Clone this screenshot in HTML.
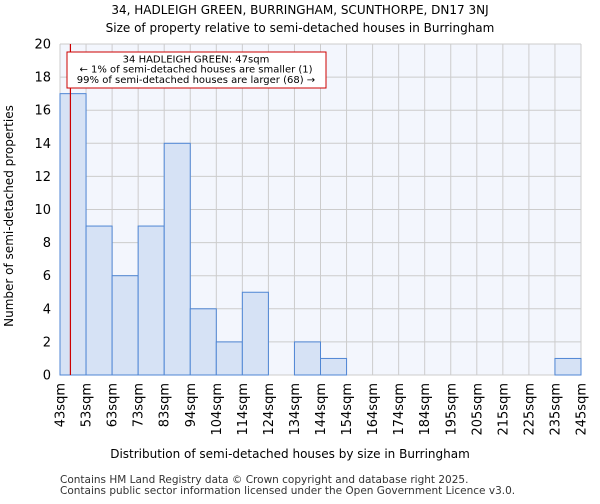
<!DOCTYPE html>
<html><head><meta charset="utf-8"><style>
body{margin:0;background:#fff;font-family:"DejaVu Sans","Liberation Sans",sans-serif}
</style></head><body>
<svg id="c" width="600" height="500" xmlns="http://www.w3.org/2000/svg" font-family="DejaVu Sans, Liberation Sans, sans-serif">
<text x="300" y="14" text-anchor="middle" font-size="12">34, HADLEIGH GREEN, BURRINGHAM, SCUNTHORPE, DN17 3NJ</text>
<text x="300" y="32" text-anchor="middle" font-size="12">Size of property relative to semi-detached houses in Burringham</text>
<g id="plot"></g>
<text x="290" y="458" text-anchor="middle" font-size="12">Distribution of semi-detached houses by size in Burringham</text>
<text transform="translate(13,216) rotate(-90)" text-anchor="middle" font-size="12">Number of semi-detached properties</text>
<text x="60" y="483" font-size="10.5" fill="#333">Contains HM Land Registry data © Crown copyright and database right 2025.</text>
<text x="60" y="494" font-size="10.5" fill="#333">Contains public sector information licensed under the Open Government Licence v3.0.</text>
</svg>
<script>
const categories=["43sqm","53sqm","63sqm","73sqm","83sqm","94sqm","104sqm","114sqm","124sqm","134sqm","144sqm","154sqm","164sqm","174sqm","184sqm","195sqm","205sqm","215sqm","225sqm","235sqm","245sqm"];
const counts=[17,9,6,9,14,4,2,5,0,2,1,0,0,0,0,0,0,0,0,1];
const yTicks=[0,2,4,6,8,10,12,14,16,18,20];
const markerBin=0.4;
const NS="http://www.w3.org/2000/svg";
const L=60,R=581,T=44,B=375,yMax=20;
const bw=(R-L)/counts.length;
const xs=i=>L+i*bw;
const ys=v=>B-(v/yMax)*(B-T);
const g=document.getElementById('plot');
function mk(t,a){const e=document.createElementNS(NS,t);for(const k in a)e.setAttribute(k,a[k]);g.appendChild(e);return e;}
let e=mk('rect',{x:L,y:T,width:R-L,height:B-T,fill:'#f3f6fd'});

yTicks.forEach(v=>{let l=mk('line',{x1:L,x2:R,y1:ys(v),y2:ys(v),stroke:'#cccccc','stroke-width':1});

let t=mk('text',{x:L-9,y:ys(v)+4.5,'text-anchor':'end','font-size':13});t.textContent=v;
});
categories.forEach((c,i)=>{let l=mk('line',{x1:xs(i),x2:xs(i),y1:T,y2:B,stroke:'#cccccc','stroke-width':1});

let t=mk('text',{transform:`translate(${xs(i)+4.5},${B+8}) rotate(-90)`,'text-anchor':'end','font-size':13});t.textContent=c;
});
counts.forEach((v,i)=>{if(v<=0)return;let r=mk('rect',{x:xs(i),y:ys(v),width:bw,height:B-ys(v),fill:'#d6e2f5',stroke:'#4f86d4','stroke-width':1});
});
const mx=xs(markerBin);
e=mk('line',{x1:mx,x2:mx,y1:T,y2:B,stroke:'#cc0000','stroke-width':1.2});

e=mk('rect',{x:67,y:52,width:259,height:36,fill:'#fff',stroke:'#cc0000','stroke-width':1});

["34 HADLEIGH GREEN: 47sqm","← 1% of semi-detached houses are smaller (1)","99% of semi-detached houses are larger (68) →"].forEach((s,i)=>{
let t=mk('text',{x:196,y:62.5+i*10.2,'text-anchor':'middle','font-size':10});t.textContent=s;
});
</script>
</body></html>
